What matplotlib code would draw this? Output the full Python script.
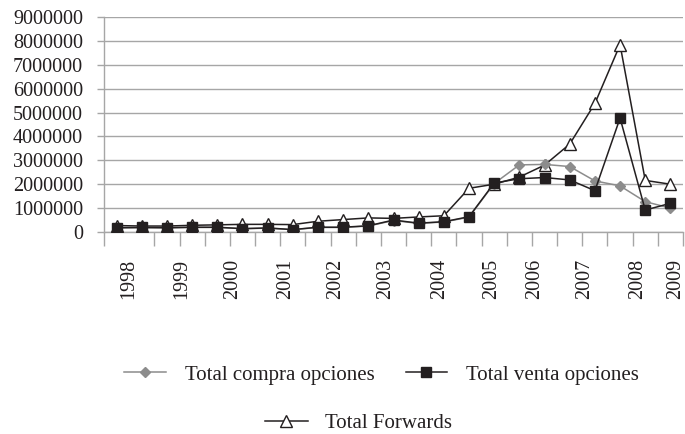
import numpy as np
import matplotlib
matplotlib.use("Agg")
import matplotlib.pyplot as plt

# ---- data (half-year observations, 1998 - 2009) ----
years = ['1998', '1999', '2000', '2001', '2002', '2003',
         '2004', '2005', '2006', '2007', '2008', '2009']
compra = [0.17, 0.18, 0.17, 0.19, 0.19, 0.14, 0.16, 0.10, 0.19, 0.19, 0.25, 0.48,
          0.36, 0.42, 0.62, 2.03, 2.81, 2.83, 2.74, 2.14, 1.93, 1.27, 1.00]
venta = [0.18, 0.19, 0.18, 0.20, 0.20, 0.14, 0.17, 0.10, 0.20, 0.20, 0.26, 0.50,
         0.37, 0.43, 0.64, 2.05, 2.23, 2.28, 2.18, 1.73, 4.77, 0.92, 1.20]
forwards = [0.27, 0.25, 0.25, 0.28, 0.30, 0.32, 0.32, 0.31, 0.45, 0.52, 0.59, 0.57,
            0.63, 0.68, 1.83, 2.00, 2.30, 2.80, 3.68, 5.38, 7.84, 2.16, 2.00]
scale = 1e6

compra = np.array(compra) * scale
venta = np.array(venta) * scale
forwards = np.array(forwards) * scale
x = np.arange(len(venta))

FONT = 'Liberation Serif'
GRID = '#a6a6a6'
DARK = '#231f20'
GRAY = '#8c8c8c'

fig = plt.figure(figsize=(6.85, 4.34), dpi=100)
ax = fig.add_axes([104/685, 1-232/434, (683-104)/685, (232-17)/434])

h_f, = ax.plot(x, forwards, color=DARK, lw=1.1, marker='^', ms=8.5,
               mfc='white', mec=DARK, mew=1.0, zorder=3, label='Total Forwards')
h_c, = ax.plot(x, compra, color=GRAY, lw=1.1, marker='D', ms=5.3,
               mfc=GRAY, mec=GRAY, zorder=4, label='Total compra opciones')
h_v, = ax.plot(x, venta, color=DARK, lw=1.1, marker='s', ms=7.2,
               mfc=DARK, mec=DARK, zorder=5, label='Total venta opciones')

ax.set_xlim(-0.5, len(x) - 0.5)
ax.set_ylim(0, 9e6)

# y axis
yt = np.arange(0, 9e6 + 1, 1e6)
ax.set_yticks(yt)
ax.set_yticklabels([f'{int(v)}' for v in yt], fontfamily=FONT, fontsize=14.5)
ax.tick_params(axis='y', direction='out', length=5, width=1.0, color=GRID,
               pad=10, labelcolor='#231f20')
ax.yaxis.grid(True, color=GRID, lw=1.0)
ax.set_axisbelow(True)

# x axis: boundary ticks (minor) and year labels (major, no tick mark)
ax.set_xticks(np.arange(-0.5, len(x) + 0.5, 1.0), minor=True)
label_pos = [0.5, 2.6, 4.6, 6.7, 8.7, 10.7, 12.85, 14.9, 16.6, 18.6, 20.7, 22.2]
ax.set_xticks(label_pos)
ax.set_xticklabels(years, rotation=90, fontfamily=FONT, fontsize=14.5)
ax.tick_params(axis='x', which='major', length=0, pad=19, labelcolor='#231f20')
ax.tick_params(axis='x', which='minor', direction='out', length=10, width=1.0,
               color=GRID)

for s in ['top', 'right']:
    ax.spines[s].set_visible(False)
for s in ['left', 'bottom']:
    ax.spines[s].set_color(GRID)
    ax.spines[s].set_linewidth(1.0)

prop = {'family': FONT, 'size': 15}
leg1 = fig.legend(handles=[h_c, h_v], loc='center', bbox_to_anchor=(0.557, 0.136),
                  ncol=2, frameon=False, handlelength=2.0, handletextpad=0.9,
                  columnspacing=1.5, borderpad=0, prop=prop)
leg2 = fig.legend(handles=[h_f], loc='center', bbox_to_anchor=(0.523, 0.025),
                  frameon=False, handlelength=2.1, handletextpad=0.8,
                  borderpad=0, prop=prop)
for lg in (leg1, leg2):
    for t in lg.get_texts():
        t.set_color('#231f20')

fig.savefig('out.png', dpi=100)
